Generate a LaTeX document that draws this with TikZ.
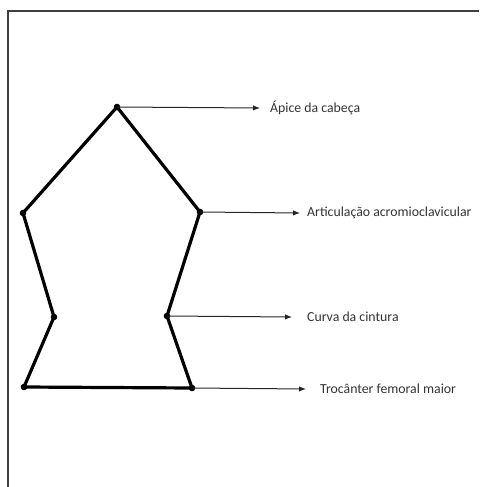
\documentclass[tikz,border=0pt]{standalone}
\usepackage{fontspec}
\setmainfont{Carlito}
\usetikzlibrary{arrows.meta}

\begin{document}
\begin{tikzpicture}[x=1pt,y=-1pt,
	contorno/.style={line width=3.2pt,line join=miter},
	seta/.style={line width=1pt,black!85,-{Latex[length=7pt,width=5.5pt]}},
	rotulo/.style={anchor=west,inner sep=0pt,font=\fontsize{13.8}{16}\selectfont,text=black!80}]
	\useasboundingbox (0,0) rectangle (479,487);

	% moldura
	\draw[line width=1.3pt,black!75] (8,487) -- (8,11) -- (479,11);

	% pontos do contorno
	\coordinate (apice) at (117,107);
	\coordinate (ombroD) at (200,212);
	\coordinate (ombroE) at (23,213);
	\coordinate (cinturaE) at (54,317);
	\coordinate (cinturaD) at (167,316);
	\coordinate (quadrilE) at (24,387);
	\coordinate (quadrilD) at (192,388);

	\draw[contorno] (apice) -- (ombroD) -- (cinturaD) -- (quadrilD) -- (quadrilE) -- (cinturaE) -- (ombroE) -- cycle;

	\foreach \p in {apice,ombroD,ombroE,cinturaE,cinturaD,quadrilE,quadrilD}
		\fill (\p) circle (3.3pt);

	% rotulos
	\node[rotulo] (tApice) at (270,108) {Ápice da cabeça};
	\node[rotulo] (tOmbro) at (307,213) {Articulação acromioclavicular};
	\node[rotulo] (tCintura) at (307,317) {Curva da cintura};
	\node[rotulo] (tQuadril) at (320,389) {Trocânter femoral maior};

	\draw[seta] (apice) -- ([xshift=-10pt]tApice.west);
	\draw[seta] (ombroD) -- ([xshift=-7pt]tOmbro.west);
	\draw[seta] (cinturaD) -- ([xshift=-15pt]tCintura.west);
	\draw[seta] (quadrilD) -- ([xshift=-14pt]tQuadril.west);
\end{tikzpicture}
\end{document}
